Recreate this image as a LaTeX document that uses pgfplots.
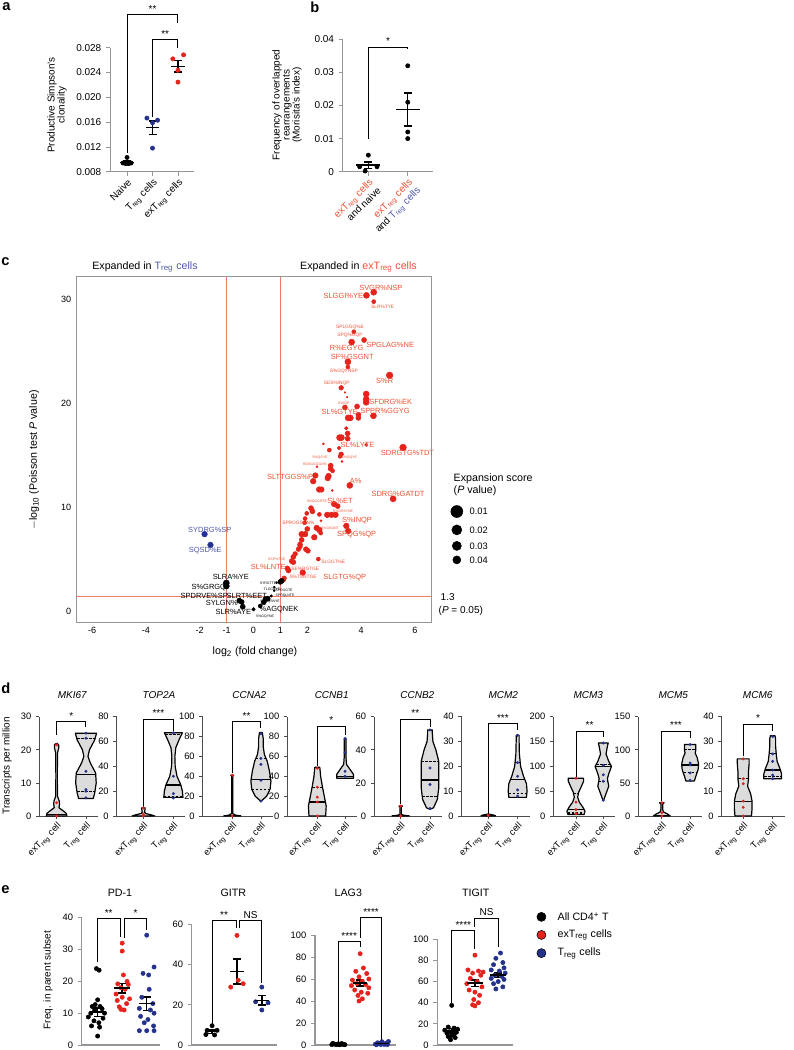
\documentclass[border=0pt]{standalone}
\usepackage{pgfplots}
\pgfplotsset{compat=1.18}
\usepackage{pgfplotstable}
\usepackage{fontspec}
\setmainfont{Liberation Sans}

\definecolor{cred}{RGB}{228,36,28}
\definecolor{clab}{RGB}{238,80,50}
\definecolor{cblue}{RGB}{36,50,140}
\definecolor{cbt}{RGB}{78,88,172}
\definecolor{axg}{RGB}{150,150,150}
\definecolor{vfill}{RGB}{220,220,220}
\definecolor{lred}{RGB}{240,125,105}

\newcommand{\fs}[1]{\fontsize{#1}{#1}\selectfont}

\pgfplotsset{
  every axis/.append style={/pgf/number format/assume math mode=true},
  dot/.style={only marks, mark=*, mark size=#1},
  brk/.style={black, line width=0.7pt, no marks},
  medl/.style={black, line width=1.1pt, no marks},
  qtl/.style={black, line width=0.8pt, dashed, dash pattern=on 2pt off 1pt, no marks},
  meanbar/.style={only marks, mark=-, mark size=#1, black, mark options={line width=1.1pt},
    error bars/.cd, y dir=both, y explicit, error bar style={line width=1.1pt, black},
    error mark options={rotate=90, line width=1.1pt, mark size=3pt, black}},
  base/.style={scale only axis, anchor=south west, clip=false,
    axis lines*=left, axis line style={axg, line width=0.6pt},
    tick style={axg, line width=0.6pt}, tick align=outside, major tick length=3pt,
    scaled ticks=false, ticklabel style={font=\fs{7.5}}},
  dax/.style={scale only axis, anchor=south west, clip=false,
    axis lines*=left, axis line style={black!70, line width=0.5pt},
    tick style={black!70, line width=0.5pt}, tick align=outside, major tick length=2.5pt,
    height=74.5pt, ymin=0, xtick={0,1},
    xticklabels={exT\textsubscript{reg} cell, T\textsubscript{reg} cell},
    xticklabel style={rotate=45, anchor=north east, inner sep=1pt},
    ticklabel style={font=\fs{7}}},
  eax/.style={scale only axis, anchor=south west, clip=false,
    axis lines*=left, axis line style={axg, line width=0.8pt},
    tick style={axg, line width=0.6pt}, tick align=outside, major tick length=3pt,
    ymin=0, xtick=\empty, ticklabel style={font=\fs{7}}},
  bub/.style={scatter, only marks, mark=*, point meta=y,
    scatter/use mapped color={draw=#1, fill=#1},
    visualization depends on={\thisrow{r}\as\rad},
    scatter/@pre marker code/.append style={/tikz/mark size=0.75*\rad}},
}

\newcommand{\violin}[2]{%
  \addplot[fill=vfill, draw=vfill, line width=0.3pt] table[x expr=#1+\thisrow{w}, y=y] {#2} -- cycle;
  \addplot[fill=vfill, draw=vfill, line width=0.3pt] table[x expr=#1-\thisrow{w}, y=y] {#2} -- cycle;
  \addplot[black, line width=0.9pt, line join=round] table[x expr=#1+\thisrow{w}, y=y] {#2};
  \addplot[black, line width=0.9pt, line join=round] table[x expr=#1-\thisrow{w}, y=y] {#2};
}

% volcano plot (panel c)
\pgfplotstableread{
x y r
4.47 30.7 3
4.20 30.4 3
4.47 29.8 2
3.73 26.9 2
4.11 26.1 2.5
3.65 25.9 3
3.51 24.0 3
3.51 23.5 2
5.06 22.7 3.3
3.26 21.5 2.3
3.40 21.05 0.8
3.48 20.6 0.8
4.19 20.9 3
4.19 20.4 3
4.19 20.1 3
3.40 19.6 2.5
3.85 19.7 2.5
3.60 18.6 3
3.52 18.6 3
3.90 18.9 2.5
3.90 18.6 2.5
4.46 18.8 3
3.45 17.6 1.8
3.50 17.1 2.5
3.50 16.6 2.5
3.20 16.7 3
3.27 16.7 3
4.19 16.0 1.5
5.56 15.75 3.3
2.60 16.1 1
2.82 15.5 2
3.18 15.7 1.8
3.26 15.1 2.3
3.22 14.9 2
3.29 14.4 1
2.87 14.0 2.5
2.87 13.7 2.5
2.36 13.9 1
2.94 13.5 2
2.30 13.05 2.8
2.22 12.5 2.8
2.79 13.0 2.8
2.76 12.8 2.8
3.58 12.1 3
2.44 11.7 2.8
2.52 11.7 2.8
2.93 11.6 1
5.19 10.8 3
3.00 10.3 2.8
3.13 10.1 2.5
2.14 9.9 2.5
2.19 9.6 2.5
2.45 9.3 2
2.74 9.26 2.8
2.90 9.26 2.8
3.05 9.26 2.8
3.45 8.2 2.8
3.52 7.7 2.8
1.90 8.5 2
2.51 8.7 1
1.98 9.4 2
1.92 8.9 2
2.35 8.0 2.8
2.45 7.8 2.8
2.00 7.9 2.5
1.79 7.4 2.8
1.92 7.4 2.8
2.26 7.1 2.8
2.50 7.5 2
1.79 6.85 2.5
1.73 6.4 2.5
1.73 6.2 2.3
1.67 5.95 2.3
1.95 5.95 2.5
2.02 5.8 2.5
1.55 5.5 2.3
1.48 5.2 2.5
1.42 4.8 2.5
1.48 4.7 2.5
2.41 5.0 2
1.26 4.1 2.5
1.30 3.9 2.5
1.83 3.7 2.8
1.14 3.15 2.3
1.11 3.0 2.3
}\volred
\pgfplotstableread{
x y r
1.05 2.9 2.5
1.00 2.8 2.5
0.86 2.73 1
0.77 2.29 1
0.77 1.96 1
0.66 1.45 1.2
0.53 1.19 2.5
0.44 1.13 2.5
0.38 0.84 2.5
0.25 0.48 2
0.00 0.16 1.8
-1.01 2.7 3
-1.01 2.4 3
-0.53 1.0 2.5
-0.44 0.87 2.5
-0.40 0.41 2.5
}\volblack
\pgfplotstableread{
x y r
-1.82 7.4 2.8
-1.60 6.36 2.8
}\volblue

% violin outlines (panel d): y, half width
\pgfplotstableread{
y w
0 0
0 0.35
0.8 0.33
1.6 0.22
2.5 0.08
3.5 0.1
4.5 0.09
6 0.03
12 0.025
19 0.03
20.5 0.07
21.5 0.07
22 0
}\vAa
\pgfplotstableread{
y w
5.3 0
5.3 0.25
7 0.3
10 0.35
13 0.33
16 0.15
18 0.07
20 0.12
23 0.3
25 0.36
25 0
}\vAb
\pgfplotstableread{
y w
0 0
0 0.38
1 0.25
2 0.08
3 0.04
5 0.05
6.5 0.06
6.7 0
}\vBa
\pgfplotstableread{
y w
15 0
15 0.32
20 0.3
25 0.25
32 0.12
40 0.06
48 0.05
55 0.08
62 0.2
67 0.3
67 0
}\vBb
\pgfplotstableread{
y w
0 0
0 0.3
1 0.1
2.5 0.02
40 0.02
41 0.05
41.5 0
}\vCa
\pgfplotstableread{
y w
15 0
16 0.05
20 0.2
27 0.32
35 0.35
45 0.3
55 0.22
62 0.12
70 0.08
78 0.08
84 0.05
84 0
}\vCb
\pgfplotstableread{
y w
0 0
0 0.3
10 0.32
20 0.25
30 0.18
40 0.12
49 0.09
49 0
}\vDa
\pgfplotstableread{
y w
38 0
38 0.3
42 0.3
46 0.2
52 0.05
60 0.03
78 0.03
78 0
}\vDb
\pgfplotstableread{
y w
0 0
0 0.3
0.5 0.1
1 0.02
5.5 0.02
6 0.06
6.2 0
}\vEa
\pgfplotstableread{
y w
4 0
5 0.12
10 0.25
17 0.3
25 0.3
33 0.3
40 0.2
45 0.1
50 0.08
52 0.08
52 0
}\vEb
\pgfplotstableread{
y w
0 0
0 0.25
0.4 0.18
0.7 0.05
0.8 0
}\vFa
\pgfplotstableread{
y w
7.5 0
7.5 0.3
10 0.32
13 0.3
16 0.2
20 0.1
25 0.06
30 0.05
32.5 0.05
32.5 0
}\vFb
\pgfplotstableread{
y w
3 0
3 0.3
10 0.33
18 0.25
28 0.12
38 0.06
48 0.1
60 0.2
70 0.28
76 0.28
76 0
}\vGa
\pgfplotstableread{
y w
30 0
45 0.1
60 0.2
75 0.15
85 0.2
100 0.3
110 0.2
125 0.1
140 0.15
147 0.18
147 0
}\vGb
\pgfplotstableread{
y w
0 0
0 0.3
3 0.2
6 0.06
10 0.03
18 0.03
20 0.08
20.5 0
}\vHa
\pgfplotstableread{
y w
53 0
53 0.15
60 0.2
70 0.28
78 0.3
88 0.25
95 0.18
100 0.2
108 0.2
108 0
}\vHb
\pgfplotstableread{
y w
0 0
0 0.28
3 0.3
6 0.3
9 0.25
12 0.15
15 0.18
18 0.18
21 0.2
23 0.2
23 0
}\vIa
\pgfplotstableread{
y w
15 0
15 0.3
17 0.3
19 0.25
22 0.15
25 0.12
28 0.1
31 0.1
32.3 0.08
32.3 0
}\vIb

\begin{document}
\begin{tikzpicture}[x=0.75pt, y=-0.75pt,
  lb/.style={font=\fs{5.6}, inner sep=0pt, text=clab},
  lm/.style={font=\fs{3.6}, inner sep=0pt, text=clab},
  ls/.style={font=\fs{2.6}, inner sep=0pt, text=clab},
  star/.style={font=\fs{7.5}, anchor=south, inner sep=1.5pt}]
\useasboundingbox (0,0) rectangle (793,1050);

% ---------------- panel a   (axis positions in pt: px*0.75, y downwards negative)
\node[font=\bfseries\fs{11}, anchor=north west, inner sep=0pt] at (2,2) {a};
\begin{axis}[base, at={(82.5pt,-128.775pt)}, width=63pt, height=93pt,
  xmin=-0.67, xmax=2.63, ymin=0.008, ymax=0.028,
  ytick={0.008,0.012,0.016,0.020,0.024,0.028},
  yticklabel style={/pgf/number format/fixed, /pgf/number format/fixed zerofill, /pgf/number format/precision=3},
  xtick={0,1,2},
  xticklabels={Naive, T\textsubscript{reg} cells, exT\textsubscript{reg} cells},
  xticklabel style={rotate=45, anchor=north east, inner sep=1pt}]
\addplot[dot=1.6pt, black] coordinates {(-0.16,0.0094) (-0.05,0.0093) (0.06,0.0093) (0.16,0.0094) (0,0.0103)};
\addplot[dot=1.6pt, cblue] coordinates {(0.78,0.01665) (1.2,0.0163) (1,0.0159) (1,0.0118)};
\addplot[dot=1.6pt, cred] coordinates {(1.8,0.0262) (2.22,0.02685) (2,0.02436) (2,0.02245)};
\addplot[meanbar=5pt] coordinates {(0,0.0095) +- (0,0.0002) (1,0.0151) +- (0,0.0011) (2,0.0250) +- (0,0.0009)};
\addplot[brk] coordinates {(0,0.011) (0,0.0333) (2,0.0333) (2,0.032)};
\addplot[brk] coordinates {(1,0.0168) (1,0.0293) (2,0.0293) (2,0.028)};
\node[star] at (axis cs:1,0.0333) {**};
\node[star] at (axis cs:1.5,0.0293) {**};
\end{axis}
\node[rotate=90, align=center, font=\fs{7.5}] at (57,105) {Productive Simpson's\\clonality};

% ---------------- panel b
\node[font=\bfseries\fs{11}, anchor=north west, inner sep=0pt] at (310,2) {b};
\begin{axis}[base, at={(257.025pt,-128.775pt)}, width=68pt, height=99.3pt,
  xmin=-0.65, xmax=1.65, ymin=0, ymax=0.04,
  ytick={0,0.01,0.02,0.03,0.04},
  yticklabel style={/pgf/number format/fixed},
  xtick={0,1},
  xticklabels={{\textcolor{clab}{exT\textsubscript{reg} cells}\\and naive},
    {\textcolor{clab}{exT\textsubscript{reg} cells}\\and \textcolor{cbt}{T\textsubscript{reg} cells}}},
  xticklabel style={rotate=45, anchor=north east, align=right, inner sep=1pt}]
\addplot[dot=1.6pt, black] coordinates {(0,0.005) (-0.22,0.0015) (0.22,0.0015) (-0.08,0.0002) (1,0.032) (1,0.021) (1,0.012) (1,0.010)};
\addplot[meanbar=9pt] coordinates {(0,0.002) +- (0,0.001) (1,0.0188) +- (0,0.005)};
\addplot[brk] coordinates {(0,0.010) (0,0.0376) (1,0.0376) (1,0.037)};
\node[star] at (axis cs:0.5,0.0376) {*};
\end{axis}
\node[rotate=90, align=center, font=\fs{7.5}] at (287,105) {Frequency of overlapped\\rearrangements\\(Morisita's index)};

% ---------------- panel c
\node[font=\bfseries\fs{11}, anchor=west, inner sep=0pt] at (1,262) {c};
\node[font=\fs{8}] at (145,266.7) {Expanded in \textcolor{cbt}{T\textsubscript{reg} cells}};
\node[font=\fs{8}] at (358.5,266.7) {Expanded in \textcolor{clab}{exT\textsubscript{reg} cells}};
\begin{axis}[scale only axis, anchor=south west, clip=false, at={(57pt,-467.025pt)},
  width=266.25pt, height=259.5pt,
  xmin=-6.6, xmax=6.6, ymin=-1.13, ymax=32.2,
  axis line style={axg, line width=0.7pt}, major tick length=0pt,
  xtick={-6,-4,-2,-1,0,1,2,4,6}, ytick={0,10,20,30},
  ticklabel style={font=\fs{6.8}}]
\addplot[lred, line width=0.5pt] coordinates {(-1,-1.13) (-1,32.2)};
\addplot[lred, line width=0.5pt] coordinates {(1,-1.13) (1,32.2)};
\addplot[lred, line width=0.5pt] coordinates {(-6.6,1.38) (6.6,1.38)};
\addplot[bub=cred] table[x=x, y=y] {\volred};
\addplot[bub=black] table[x=x, y=y] {\volblack};
\addplot[bub=cblue] table[x=x, y=y] {\volblue};
% size legend
\addplot[dot=4.5pt, black] coordinates {(7.56,9.58)};
\addplot[dot=3.75pt, black] coordinates {(7.56,7.81)};
\addplot[dot=3.4pt, black] coordinates {(7.56,6.27)};
\addplot[dot=3pt, black] coordinates {(7.56,4.92)};
\end{axis}
\node[rotate=90, font=\fs{8}] at (34,460) {$-$log\textsubscript{10} (Poisson test \textit{P} value)};
\node[font=\fs{8}] at (255,651.7) {log\textsubscript{2} (fold change)};
\node[font=\fs{7.5}, anchor=west] at (436,596.7) {1.3};
\node[font=\fs{7.5}, anchor=west] at (434,610.5) {(\textit{P} = 0.05)};
\node[font=\fs{8}, anchor=west] at (449,478.3) {Expansion score};
\node[font=\fs{8}, anchor=west] at (449,491) {(\textit{P} value)};
\node[font=\fs{7}, anchor=west] at (465,511.7) {0.01};
\node[font=\fs{7}, anchor=west] at (465,530) {0.02};
\node[font=\fs{7}, anchor=west] at (465,546) {0.03};
\node[font=\fs{7}, anchor=west] at (465,560) {0.04};
% peptide labels
\node[lb, anchor=west] at (359,288.3) {SVGR\%NSP};
\node[lb, anchor=east] at (363.3,295.7) {SLGGI\%YE};
\node[lm] at (382.7,306.7) {SLR\%TYE};
\node[lm] at (350,327) {SPLGGQ\%E};
\node[lm] at (350,335.7) {SPQ\%GQP};
\node[lb, anchor=west] at (366,344.7) {SPGLAG\%NE};
\node[lb] at (346.7,347.7) {R\%EGYG};
\node[lb] at (352.3,357.3) {SF\%GSGNT};
\node[lm] at (343.8,371.7) {S\%GQYNSP};
\node[lb] at (384.7,381) {S\%R};
\node[lm] at (336.7,383.7) {SES\%INQP};
\node[lb, anchor=west] at (369,402.3) {SFDRG\%EK};
\node[ls] at (343.7,403.3) {S\%IQP};
\node[lb] at (339.7,412.3) {SL\%GTYE};
\node[lb, anchor=west] at (360,410.7) {SPPR\%GGYG};
\node[lb] at (357.5,445) {SL\%LYTE};
\node[lb] at (407.5,452.7) {SDRGTG\%TDT};
\node[ls] at (320,457.7) {S\%QGYE};
\node[ls] at (348.3,457.7) {SL\%GQYE};
\node[ls] at (315,464) {RDSGGGGN\%};
\node[lb, anchor=east] at (313.3,476.7) {SLTTGGS\%P};
\node[lb] at (355.8,481) {A\%};
\node[lb] at (398,494.3) {SDRG\%GATDT};
\node[lb] at (340,500.7) {SL\%ET};
\node[ls] at (317,502) {SNQGGRTE};
\node[ls] at (343,511) {S\%GRSYNE};
\node[lb] at (357,520.7) {S\%INQP};
\node[lm] at (298.3,522.7) {SPROGSGN\%};
\node[ls] at (330,528) {S\%GSGNT};
\node[lb] at (356.7,535) {SPQG\%QP};
\node[ls] at (276.7,559.3) {SSP\%TGE};
\node[lm] at (333.3,562.3) {SLGGT\%E};
\node[lb] at (268.3,566.7) {SL\%LNTE};
\node[lm] at (305.3,569.3) {SE\%RGTGE};
\node[lm] at (303,577.3) {S\%TSNTGE};
\node[lb] at (344.7,577.7) {SLGTG\%QP};
\node[lb, text=cbt] at (209.8,530) {SYDRG\%SP};
\node[lb, text=cbt] at (205.3,550.7) {SQSD\%E};
\node[lb, text=black] at (230.8,577.3) {SLRA\%YE};
\node[lb, text=black] at (208.8,587.3) {S\%GRGQ};
\node[lb, text=black] at (205.5,595.7) {SPDRVE\%SP-};
\node[lb, text=black] at (246.8,595.7) {SLRT\%EET};
\node[lb, text=black] at (221.8,603.3) {SYLGN\%};
\node[lb, text=black] at (233.3,612) {SLR\%AYE};
\node[lb, text=black] at (279,609.3) {\%AGQNEK};
\node[ls, text=black] at (265,616.7) {S\%GQYNE};
\node[ls, text=black] at (268,583) {SYRGTTE};
\node[ls, text=black] at (272,589.5) {TLGGNYE};
\node[ls, text=black] at (284,590.5) {SYRGGTE};
\node[ls, text=black] at (285,596) {SPRQLNTE};
\node[ls, text=black] at (270,602) {SPGQSNYE};

% ---------------- panel d
\node[font=\bfseries\fs{11}, anchor=west, inner sep=0pt] at (1,688.3) {d};
\node[rotate=90, font=\fs{7.5}] at (7,766) {Transcripts per million};
\foreach \t/\xx in {MKI67/72.3, TOP2A/159, CCNA2/249.3, CCNB1/331.7, CCNB2/417.3, MCM2/503.3, MCM3/588.3, MCM5/673.3, MCM6/757.7}
  \node[font=\itshape\fs{7.5}] at (\xx,695) {\t};

\begin{axis}[dax, at={(29.475pt,-612pt)}, width=44pt, xmin=-0.59, xmax=1.41, ymax=30, ytick={0,10,20,30}]
\violin{0}{\vAa}
\violin{1}{\vAb}
\addplot[medl] coordinates {(-0.34,0.5) (0.34,0.5)};
\addplot[medl] coordinates {(0.66,12.5) (1.34,12.5)};
\addplot[qtl] coordinates {(0.69,7.5) (1.31,7.5)};
\addplot[qtl] coordinates {(0.69,23.5) (1.31,23.5)};
\addplot[dot=0.9pt, cred] coordinates {(0,21.5) (0,4) (0,0)};
\addplot[dot=0.9pt, cblue] coordinates {(1,25) (1,23.5) (1,13.5) (1,8) (1,7.5) (1,5.5)};
\addplot[brk] coordinates {(0,24.5) (0,28.5) (1,28.5) (1,27)};
\node[star] at (axis cs:0.5,28.5) {*};
\end{axis}

\begin{axis}[dax, at={(87.525pt,-612pt)}, width=51.5pt, xmin=-0.89, xmax=1.4, ymax=80, ytick={0,20,40,60,80}]
\violin{0}{\vBa}
\violin{1}{\vBb}
\addplot[medl] coordinates {(0.75,25) (1.25,25)};
\addplot[qtl] coordinates {(0.68,16) (1.32,16)};
\addplot[qtl] coordinates {(0.72,66) (1.28,66)};
\addplot[dot=0.9pt, cred] coordinates {(0,6.5) (0,1.5) (0,0)};
\addplot[dot=0.9pt, cblue] coordinates {(1,67) (1,32) (1,18) (1,14.5)};
\addplot[brk] coordinates {(0,7) (0,78) (1,78) (1,68.5)};
\node[star] at (axis cs:0.5,78) {***};
\end{axis}

\begin{axis}[dax, at={(152.025pt,-612pt)}, width=52.7pt, xmin=-1.03, xmax=1.42, ymax=100, ytick={0,20,40,60,80,100}]
\violin{0}{\vCa}
\violin{1}{\vCb}
\addplot[medl] coordinates {(-0.3,0.3) (0.3,0.3)};
\addplot[medl] coordinates {(0.65,37) (1.35,37)};
\addplot[qtl] coordinates {(0.68,27) (1.32,27)};
\addplot[qtl] coordinates {(0.82,58) (1.18,58)};
\addplot[dot=0.9pt, cred] coordinates {(0,41) (0,0)};
\addplot[dot=0.9pt, cblue] coordinates {(1,83) (1,58) (1,52) (1,36) (1,15)};
\addplot[brk] coordinates {(0,43) (0,95) (1,95) (1,88.5)};
\node[star] at (axis cs:0.5,95) {**};
\end{axis}

\begin{axis}[dax, at={(215.475pt,-612pt)}, width=52.3pt, xmin=-1.08, xmax=1.43, ymax=100, ytick={0,20,40,60,80,100}]
\violin{0}{\vDa}
\violin{1}{\vDb}
\addplot[medl] coordinates {(-0.31,14) (0.31,14)};
\addplot[qtl] coordinates {(-0.19,29) (0.19,29)};
\addplot[medl] coordinates {(0.7,40) (1.3,40)};
\addplot[qtl] coordinates {(0.97,64) (1.03,64)};
\addplot[dot=0.9pt, cred] coordinates {(0,48) (0,29) (0,19) (0,14) (0,0)};
\addplot[dot=0.9pt, cblue] coordinates {(1,78) (1,64) (1,45) (1,40)};
\addplot[brk] coordinates {(0,50.5) (0,90.6) (1,90.6) (1,81.5)};
\node[star] at (axis cs:0.5,90.6) {*};
\end{axis}

\begin{axis}[dax, at={(280.5pt,-612pt)}, width=51pt, xmin=-0.91, xmax=1.41, ymax=60, ytick={0,20,40,60}]
\violin{0}{\vEa}
\violin{1}{\vEb}
\addplot[medl] coordinates {(-0.3,0.2) (0.3,0.2)};
\addplot[medl] coordinates {(0.7,21.7) (1.3,21.7)};
\addplot[qtl] coordinates {(0.73,12) (1.27,12)};
\addplot[qtl] coordinates {(0.7,32.8) (1.3,32.8)};
\addplot[dot=0.9pt, cred] coordinates {(0,6) (0,0)};
\addplot[dot=0.9pt, cblue] coordinates {(1,52) (1,29) (1,19) (1,4.5)};
\addplot[brk] coordinates {(0,7) (0,58.6) (1,58.6) (1,54)};
\node[star] at (axis cs:0.5,58.6) {**};
\end{axis}

\begin{axis}[dax, at={(346.275pt,-612pt)}, width=51pt, xmin=-0.9, xmax=1.41, ymax=40, ytick={0,10,20,30,40}]
\violin{0}{\vFa}
\violin{1}{\vFb}
\addplot[medl] coordinates {(-0.25,0.1) (0.25,0.1)};
\addplot[medl] coordinates {(0.75,14.8) (1.25,14.8)};
\addplot[qtl] coordinates {(0.69,9) (1.31,9)};
\addplot[qtl] coordinates {(0.91,21.7) (1.09,21.7)};
\addplot[dot=0.9pt, cred] coordinates {(0,0.3)};
\addplot[dot=0.9pt, cblue] coordinates {(1,32.5) (1,21.5) (1,16) (1,10.5) (1,8)};
\addplot[brk] coordinates {(0,1) (0,37.3) (1,37.3) (1,34.6)};
\node[star] at (axis cs:0.5,37.3) {***};
\end{axis}

\begin{axis}[dax, at={(414.975pt,-612pt)}, width=46.5pt, xmin=-0.83, xmax=1.44, ymax=200, ytick={0,50,100,150,200}]
\violin{0}{\vGa}
\violin{1}{\vGb}
\addplot[medl] coordinates {(-0.31,13.4) (0.31,13.4)};
\addplot[qtl] coordinates {(-0.3,6) (0.3,6)};
\addplot[qtl] coordinates {(-0.1,46) (0.1,46)};
\addplot[medl] coordinates {(0.7,100) (1.3,100)};
\addplot[qtl] coordinates {(0.83,70) (1.17,70)};
\addplot[qtl] coordinates {(0.73,104) (1.27,104)};
\addplot[dot=0.9pt, cred] coordinates {(0,76) (0,28) (0,13) (0,5)};
\addplot[dot=0.9pt, cblue] coordinates {(1,147) (1,102) (1,83) (1,70) (1,32)};
\addplot[brk] coordinates {(0,78) (0,171) (1,171) (1,160)};
\node[star] at (axis cs:0.5,171) {**};
\end{axis}

\begin{axis}[dax, at={(478.725pt,-612pt)}, width=47.8pt, xmin=-0.83, xmax=1.42, ymax=150, ytick={0,50,100,150}]
\violin{0}{\vHa}
\violin{1}{\vHb}
\addplot[medl] coordinates {(-0.28,1) (0.28,1)};
\addplot[medl] coordinates {(0.7,77) (1.3,77)};
\addplot[qtl] coordinates {(0.77,65) (1.23,65)};
\addplot[qtl] coordinates {(0.8,100) (1.2,100)};
\addplot[dot=0.9pt, cred] coordinates {(0,20) (0,5) (0,0)};
\addplot[dot=0.9pt, cblue] coordinates {(1,108) (1,80) (1,77) (1,65) (1,54)};
\addplot[brk] coordinates {(0,22) (0,128.4) (1,128.4) (1,118)};
\node[star] at (axis cs:0.5,128.4) {***};
\end{axis}

\begin{axis}[dax, at={(541.275pt,-612pt)}, width=47.3pt, xmin=-0.73, xmax=1.41, ymax=40, ytick={0,10,20,30,40}]
\violin{0}{\vIa}
\violin{1}{\vIb}
\addplot[medl] coordinates {(-0.3,5.8) (0.3,5.8)};
\addplot[qtl] coordinates {(-0.18,15) (0.18,15)};
\addplot[medl] coordinates {(0.73,18.5) (1.27,18.5)};
\addplot[qtl] coordinates {(0.7,16) (1.3,16)};
\addplot[qtl] coordinates {(0.88,25) (1.12,25)};
\addplot[dot=0.9pt, cred] coordinates {(0,23) (0,15) (0,13) (0,6) (0,3.5) (0,0)};
\addplot[dot=0.9pt, cblue] coordinates {(1,32) (1,25) (1,22) (1,18.5) (1,16.5) (1,15)};
\addplot[brk] coordinates {(0,24) (0,37) (1,37) (1,34.2)};
\node[star] at (axis cs:0.5,37) {*};
\end{axis}

% ---------------- panel e
\node[font=\bfseries\fs{11}, anchor=west, inner sep=0pt] at (1,890) {e};
\node[rotate=90, font=\fs{7.5}] at (48,980) {Freq. in parent subset};
\node[font=\fs{8}] at (120,893.3) {PD-1};
\node[font=\fs{8}] at (233.3,893.3) {GITR};
\node[font=\fs{8}] at (348.3,893.3) {LAG3};
\node[font=\fs{8}] at (475.7,893.3) {TIGIT};

\begin{axis}[eax, at={(61.275pt,-783.75pt)}, width=58.7pt, height=95.5pt,
  xmin=-0.65, xmax=2.54, ymax=40, ytick={0,10,20,30,40}]
\addplot[dot=1.6pt, black] coordinates {(-0.05,24) (0.06,23.5) (0,14.2) (-0.1,12.7) (-0.22,12.1) (0.1,12.1) (-0.12,11) (0.18,11.4) (-0.28,10) (0.28,10) (-0.38,8.8) (0.22,8.4) (-0.15,7.6) (0.05,7) (-0.25,6) (0.08,5.6) (0,2.8)};
\addplot[dot=1.6pt, cred] coordinates {(1,32) (1,29.5) (1.05,22) (1.2,20) (0.82,19.2) (1.25,19) (0.95,18) (1.12,17.5) (0.75,16) (1,15) (1.3,14.5) (0.8,14) (1.18,13) (0.88,12) (1.08,11) (0.95,11.2)};
\addplot[dot=1.6pt, cblue] coordinates {(2,34.5) (2.3,24.5) (1.85,22.5) (2.08,22) (2.1,17.5) (1.8,15) (2.25,13) (1.7,11.5) (2.15,11) (2.3,10) (1.75,9) (2.05,8) (1.9,7) (2.28,6) (1.7,4.5) (2,4.5) (2.3,4.5)};
\addplot[meanbar=6pt] coordinates {(0,10.3) +- (0,1.4) (1,17.9) +- (0,1.5) (2,13) +- (0,2.1)};
\addplot[brk] coordinates {(0,26) (0,39.6) (0.91,39.6) (0.91,34)};
\addplot[brk] coordinates {(1.1,33.5) (1.1,39.6) (2,39.6) (2,36)};
\node[star] at (axis cs:0.45,39.6) {**};
\node[star] at (axis cs:1.55,39.6) {*};
\end{axis}

\begin{axis}[eax, at={(143.775pt,-783.75pt)}, width=63.8pt, height=90.5pt,
  xmin=-0.82, xmax=2.6, ymax=60, ytick={0,20,40,60}]
\addplot[dot=1.6pt, black] coordinates {(0,9.6) (-0.2,7.3) (0.2,7.3) (-0.25,5.2) (0.1,5)};
\addplot[dot=1.6pt, cred] coordinates {(1,54.5) (0.75,28.8) (1.25,30.5) (1.05,32.2)};
\addplot[dot=1.6pt, cblue] coordinates {(2,28.8) (1.75,21.5) (2.25,21) (2,17.4)};
\addplot[meanbar=5.5pt] coordinates {(0,6.6) +- (0,0.9) (1,36.5) +- (0,6.2) (2,22.2) +- (0,2.3)};
\addplot[brk] coordinates {(0,10.5) (0,61.7) (0.97,61.7) (0.97,58.1)};
\addplot[brk] coordinates {(1.09,58.1) (1.09,61.7) (2,61.7) (2,30.6)};
\node[star] at (axis cs:0.48,61.7) {**};
\node[star] at (axis cs:1.55,61.7) {NS};
\end{axis}

\begin{axis}[eax, at={(236.25pt,-783.75pt)}, width=61pt, height=82.5pt,
  xmin=-1.07, xmax=2.66, ymax=100, ytick={0,20,40,60,80,100}]
\addplot[dot=1.6pt, black] coordinates {(-0.3,0.4) (-0.2,0.9) (-0.1,0.3) (0,1.1) (0.1,0.5) (0.2,0.8) (0.3,0.3) (-0.25,1.5) (0.05,0.2) (0.15,1.3) (-0.05,0.7) (0.25,0.6)};
\addplot[dot=1.6pt, cred] coordinates {(1,83) (1.15,70) (0.8,67) (1.3,65) (0.95,62) (1.4,60) (0.65,59) (1.1,58) (0.85,56) (1.25,55) (0.6,54) (1.4,52) (0.75,50) (1.05,48) (1.35,47) (0.9,45) (1.1,42) (0.95,40)};
\addplot[dot=1.6pt, cblue] coordinates {(1.7,0.8) (1.8,2) (1.9,1.2) (2,3) (2.1,0.6) (2.2,1.8) (2.3,3.2) (1.75,0.3) (1.95,0.5) (2.15,1) (2.25,0.4) (1.85,1.5)};
\addplot[meanbar=5.5pt] coordinates {(0,0.6) +- (0,0.1) (1,56.3) +- (0,2.6) (2,1.4) +- (0,0.3)};
\addplot[brk] coordinates {(0,3) (0,94) (1,94) (1,89)};
\addplot[brk] coordinates {(1,97.5) (1,115.6) (2,115.6) (2,4.8)};
\node[star] at (axis cs:0.5,94) {****};
\node[star] at (axis cs:1.5,115.6) {****};
\end{axis}

\begin{axis}[eax, at={(327.975pt,-783.75pt)}, width=57pt, height=79.3pt,
  xmin=-0.62, xmax=2.65, ymax=100, ytick={0,20,40,60,80,100}]
\addplot[dot=1.6pt, black] coordinates {(0,37.5) (-0.15,17) (0.1,16) (0.25,15) (-0.3,14) (0.05,13.5) (-0.1,12.5) (0.2,12) (-0.2,11) (0.1,10.5) (0,9) (-0.15,8) (0.15,7) (-0.05,5)};
\addplot[dot=1.6pt, cred] coordinates {(1,85) (0.7,71) (1.15,70) (1.35,69) (0.9,68) (1.25,66) (0.8,63) (1.1,60) (0.65,58) (1.3,55) (0.75,52) (1,50) (1.2,47) (0.95,43) (1.15,40) (0.9,38) (1,37)};
\addplot[dot=1.6pt, cblue] coordinates {(2.1,87) (1.9,82) (2.2,78) (1.8,76) (2.25,73) (1.7,71) (2.05,70) (2.3,68) (1.85,66) (2.15,65) (1.7,63) (2.25,62) (2,60) (1.8,58) (2.2,55) (1.9,53)};
\addplot[meanbar=6pt] coordinates {(0,13.5) +- (0,2) (1,58.5) +- (0,3) (2,66) +- (0,2)};
\addplot[brk] coordinates {(0,40) (0,108) (1,108) (1,91)};
\addplot[brk] coordinates {(1,112) (1,120) (2,120) (2,93)};
\node[star] at (axis cs:0.5,108) {****};
\node[star] at (axis cs:1.5,120) {NS};
% group legend
\addplot[only marks, mark=*, mark size=3.4pt, draw=black, fill=black] coordinates {(3.86,121.2)};
\addplot[only marks, mark=*, mark size=3.4pt, draw=black, fill=cred] coordinates {(3.86,104.1)};
\addplot[only marks, mark=*, mark size=3.4pt, draw=black, fill=cblue] coordinates {(3.86,86.9)};
\end{axis}
\node[font=\fs{8}, anchor=west] at (553,916.7) {All CD4\textsuperscript{+} T};
\node[font=\fs{8}, anchor=west] at (553,935) {exT\textsubscript{reg} cells};
\node[font=\fs{8}, anchor=west] at (553,953.3) {T\textsubscript{reg} cells};
\end{tikzpicture}
\end{document}
